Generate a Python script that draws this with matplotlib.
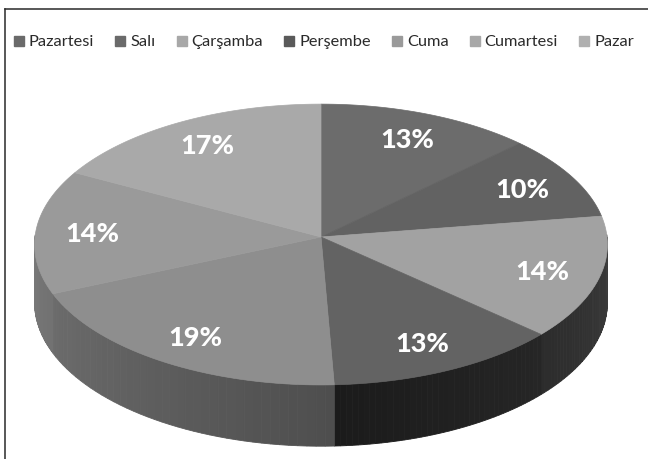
import numpy as np
import matplotlib
matplotlib.use("Agg")
import matplotlib.pyplot as plt
from matplotlib.patches import Polygon
from matplotlib.lines import Line2D

# ---- data ----
days = ["Pazartesi", "Salı", "Çarşamba", "Perşembe", "Cuma", "Cumartesi", "Pazar"]
values = [12.8, 9.8, 14.1, 12.6, 19.2, 14.3, 17.2]

# ---- style ----
top_colors = ["#6c6c6c", "#626262", "#a2a2a2", "#636363", "#8e8e8e", "#9a9a9a", "#a9a9a9"]
legend_colors = ["#6a6a6a", "#6a6a6a", "#a8a8a8", "#5a5a5a", "#9a9a9a", "#a8a8a8", "#b0b0b0"]
side_left = ["#555555", "#4a4a4a", "#2c2c2c", "#1b1b1b", "#6c6c6c", "#7c7c7c", "#808080"]
side_right = ["#555555", "#4a4a4a", "#3c3c3c", "#262626", "#4e4e4e", "#717171", "#808080"]

W, H = 648, 459
fig = plt.figure(figsize=(W / 100, H / 100), dpi=100)
ax = fig.add_axes([0, 0, 1, 1])
ax.set_xlim(0, W)
ax.set_ylim(H, 0)
ax.axis("off")

# projection geometry (pixels)
cx, cy = 321.0, 237.0
R, r = 286.0, 140.0
p = 0.0535
h = 58.0


def proj(t, f=1.0, depth=0.0):
    X = f * np.cos(t)
    Z = f * np.sin(t)
    w = 1 + p * Z
    return cx + R * X / w, cy + (-r * Z + h * depth) / w


def hex2rgb(c):
    c = c.lstrip("#")
    return np.array([int(c[i:i + 2], 16) / 255 for i in (0, 2, 4)])


total = sum(values)
fracs = [v / total for v in values]
starts = []
acc = 0.0
for fr in fracs:
    starts.append(acc)
    acc += fr


def ang(cum):
    # clockwise from 12 o'clock
    return np.pi / 2 - 2 * np.pi * cum


# sides (front half only)
for i, fr in enumerate(fracs):
    t1 = ang(starts[i])
    t2 = ang(starts[i] + fr)
    ts = np.linspace(t1, t2, 200)
    mask = np.sin(ts) < 0.02
    if not mask.any():
        continue
    ts = ts[mask]
    n = 40
    segs = np.linspace(ts.min(), ts.max(), n + 1)
    cl, cr = hex2rgb(side_left[i]), hex2rgb(side_right[i])
    for k in range(n):
        a, b = segs[k], segs[k + 1]
        tt = np.linspace(a, b, 4)
        xt, yt = proj(tt)
        xb, yb = proj(tt[::-1], depth=1.0)
        fpos = 1 - (k + 0.5) / n
        col = cl * fpos + cr * (1 - fpos)
        poly = Polygon(np.column_stack([np.r_[xt, xb], np.r_[yt, yb]]),
                       closed=True, facecolor=col, edgecolor=col, lw=0.6)
        ax.add_patch(poly)

# top faces
for i, fr in enumerate(fracs):
    t1 = ang(starts[i])
    t2 = ang(starts[i] + fr)
    ts = np.linspace(t1, t2, 120)
    xs, ys = proj(ts)
    poly = Polygon(np.column_stack([np.r_[cx, xs], np.r_[cy, ys]]), closed=True,
                   facecolor=top_colors[i], edgecolor=top_colors[i], lw=0.5)
    ax.add_patch(poly)

# labels
for i, fr in enumerate(fracs):
    tm = ang(starts[i] + fr / 2)
    lx, ly = proj(tm, f=0.8)
    ax.text(lx, ly + 2, f"{round(values[i] / total * 100)}%", color="white",
            fontsize=19.5, fontweight=900, family=["Lato", "DejaVu Sans"],
            ha="center", va="center")

# frame lines (left & top)
ax.add_line(Line2D([5, 5], [9, H], color="#2a2a2a", lw=1.1))
ax.add_line(Line2D([5, W], [9, 9], color="#2a2a2a", lw=1.1))

# legend
handles = [Line2D([], [], marker="s", linestyle="none", markersize=6.5,
                  markerfacecolor=c, markeredgecolor=c) for c in legend_colors]
fig.legend(handles, days, loc="center", bbox_to_anchor=(0.5, 1 - 42 / H), ncol=7,
           frameon=False, handlelength=0.6, handletextpad=0.3, columnspacing=1.3,
           prop={"family": ["Lato", "DejaVu Sans"], "size": 11.8},
           labelcolor="#2a2a2a")

fig.savefig("out.png", dpi=100)
